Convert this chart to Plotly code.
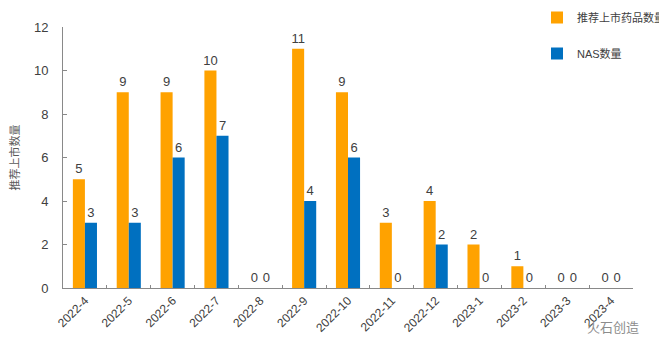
import plotly.graph_objects as go

categories = ["2022-4", "2022-5", "2022-6", "2022-7", "2022-8", "2022-9", "2022-10",
              "2022-11", "2022-12", "2023-1", "2023-2", "2023-3", "2023-4"]
recommended = [5, 9, 9, 10, 0, 11, 9, 3, 4, 2, 1, 0, 0]
nas = [3, 3, 6, 7, 0, 4, 6, 0, 2, 0, 0, 0, 0]
y_ticks = [0, 2, 4, 6, 8, 10, 12]

font_family = "Liberation Sans, Noto Sans CJK SC, sans-serif"
# page body has an 8px margin; size the figure so it fits the 667x357 window
OFF = 8
W, H = 667 - OFF, 357 - OFF
ML, MT = 63 - OFF, 27 - OFF
MR = W - (633 - OFF)
MB = H - (288 - OFF)
PW, PH = W - ML - MR, H - MT - MB


def px_x(sx):
    return (sx - OFF - ML) / PW


def px_y(sy):
    return (H - MB - (sy - OFF)) / PH


fig = go.Figure()
fig.add_trace(go.Bar(
    x=categories, y=recommended, name="推荐上市药品数量",
    marker=dict(color="#FFA200", line=dict(width=0)),
    text=recommended, textposition="outside", cliponaxis=False,
    constraintext="none",
    textfont=dict(size=13, color="#404040"),
    legendgroup="a",
))
fig.add_trace(go.Bar(
    x=categories, y=nas, name="NAS数量",
    marker=dict(color="#0070C0", line=dict(width=0)),
    text=nas, textposition="outside", cliponaxis=False,
    constraintext="none",
    textfont=dict(size=13, color="#404040"),
    legendgroup="b",
))

fig.add_annotation(
    text="火石创造", xref="paper", yref="paper",
    x=px_x(613), y=px_y(327), xanchor="center", yanchor="middle",
    showarrow=False, font=dict(size=13, color="#8C8C8C"),
)

fig.update_layout(
    width=W, height=H,
    margin=dict(l=ML, r=MR, t=MT, b=MB, autoexpand=False),
    paper_bgcolor="white", plot_bgcolor="white",
    font=dict(family=font_family, color="#404040"),
    barmode="group", bargap=0.45, bargroupgap=0,
    uniformtext=dict(minsize=13, mode="show"),
    showlegend=True,
    legend=dict(
        x=px_x(537), y=px_y(3), xanchor="left", yanchor="top",
        font=dict(size=11, color="#404040"),
        traceorder="grouped", tracegroupgap=17,
        bgcolor="rgba(0,0,0,0)", itemwidth=30,
    ),
    yaxis=dict(
        range=[0, 12], tickvals=y_ticks, ticks="inside", ticklen=4,
        tickcolor="#898989", showline=True, linecolor="#898989",
        showgrid=False, zeroline=False, ticklabelstandoff=11,
        tickfont=dict(size=13, color="#404040"),
        title=dict(text="推荐上市数量", font=dict(size=11, color="#595959"), standoff=25),
    ),
    xaxis=dict(
        type="category",
        showline=True, linecolor="#898989", showgrid=False,
        ticks="inside", tickson="boundaries", ticklen=3, tickcolor="#898989",
        tickangle=-45,
        tickfont=dict(size=12, color="#404040"),
    ),
)

fig.write_html("out.html")
